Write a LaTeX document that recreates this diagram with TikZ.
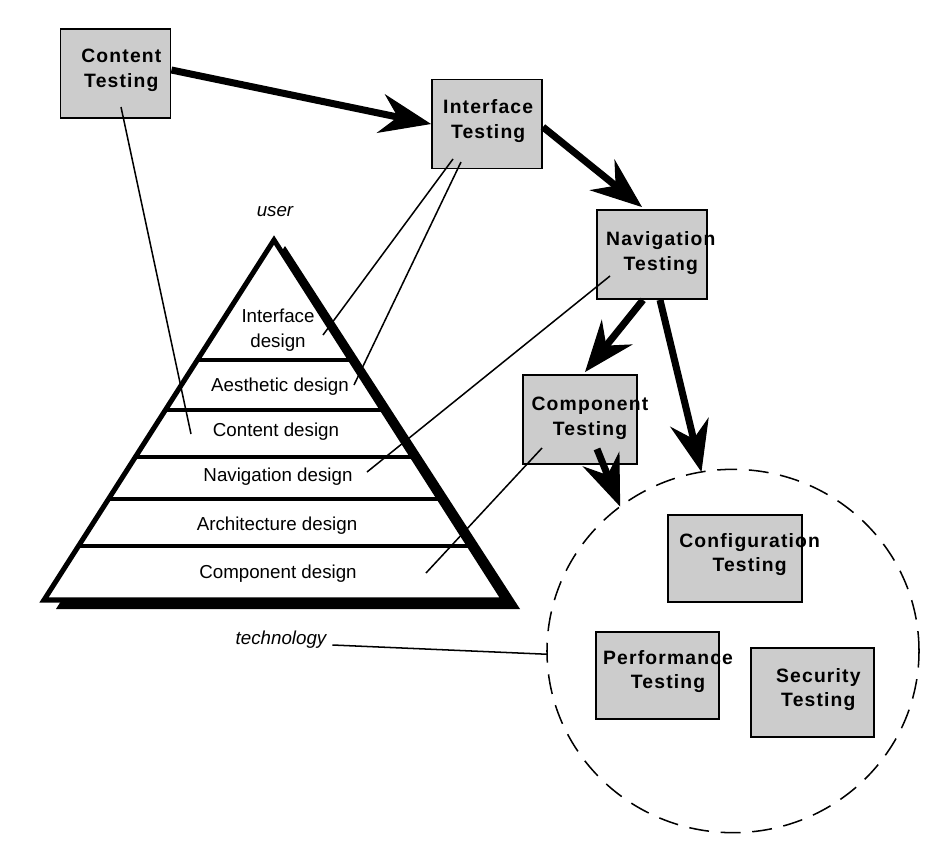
\documentclass[tikz,border=0pt]{standalone}
\usepackage{fontspec}
\setmainfont{Liberation Sans}
\newfontfamily\boxfont[LetterSpace=6]{Liberation Sans}
\usetikzlibrary{arrows.meta, positioning, shapes.geometric, calc}
\definecolor{boxgray}{HTML}{CCCCCC}

\begin{document}
\begin{tikzpicture}[x=0.03cm, y=-0.03cm,
    testbox/.style={draw, line width=1.6pt, fill=boxgray, minimum width=3.3cm, minimum height=2.67cm, inner sep=0pt},
    boxtext/.style={font=\fontsize{16.5}{21}\boxfont\bfseries, align=center},
    layer/.style={font=\fontsize{16}{21}\selectfont, align=center, inner sep=2pt},
    side/.style={font=\fontsize{16}{18}\selectfont\itshape},
    bigarr/.style={line width=6pt, -{Stealth[length=44pt, width=34pt, inset=15pt, line width=1pt]}},
    thin/.style={line width=1.3pt},
]
\useasboundingbox (0,0) rectangle (952,864);

% Pyramid
\coordinate (apex) at (274,240);
\coordinate (bl) at (44,600);
\coordinate (br) at (504,600);
\fill ($(apex)+(11,6)$) -- ($(bl)+(12,9)$) -- ($(br)+(16,9)$) -- cycle;
\draw[line width=4.3pt, fill=white] (apex) -- (bl) -- (br) -- cycle;
\foreach \y in {360,410,457,499,546}
    \draw[line width=3.4pt] ($(apex)!{(\y-240)/360}!(bl)$) -- ($(apex)!{(\y-240)/360}!(br)$);

\node[layer] (lint) at (278,330) {Interface\\design};
\node[layer] (laes) at (280,387) {Aesthetic design};
\node[layer] (lcon) at (276,432) {Content design};
\node[layer] (lnav) at (278,477) {Navigation design};
\node[layer] (larc) at (277,526) {Architecture design};
\node[layer] (lcmp) at (278,574) {Component design};

\node[side] (user) at (275,212) {user};
\node[side] (tech) at (281,640) {technology};

% Technology zone
\node[draw, ellipse, line width=1.3pt, dash pattern=on 17pt off 10pt, minimum width=11.16cm, minimum height=10.9cm, inner sep=0pt, outer sep=0pt] (zone) at (733,651) {};

% Testing boxes
\node[testbox, label={[boxtext, xshift=5pt, yshift=2.5pt]center:{Content\\Testing}}] (ct) at (115.5,73.5) {};
\node[testbox, label={[boxtext, xshift=1pt, yshift=2.5pt]center:{Interface\\Testing}}] (it) at (487,124) {};
\node[testbox, label={[boxtext, xshift=7.5pt, yshift=1pt]center:{Navigation\\Testing}}] (nt) at (652,254.5) {};
\node[testbox, minimum width=3.42cm, label={[boxtext, xshift=8.5pt, yshift=1pt]center:{Component\\Testing}}] (cpt) at (580,419.5) {};
\node[testbox, minimum width=4.02cm, minimum height=2.61cm, label={[boxtext, xshift=12.5pt, yshift=3.5pt]center:{Configuration\\Testing}}] (cft) at (735,558.5) {};
\node[testbox, minimum width=3.69cm, minimum height=2.61cm, label={[boxtext, xshift=9pt, yshift=3.5pt]center:{Performance\\Testing}}] (pt) at (657.5,675.5) {};
\node[testbox, minimum width=3.69cm, label={[boxtext, xshift=5pt, yshift=2.5pt]center:{Security\\Testing}}] (st) at (812.5,692.5) {};

% Links to design layers
\draw[thin] ($(ct)+(5.5,33.5)$) -- ($(lcon)+(-85,2)$);
\draw[thin] ($(it)+(-34,35)$) -- ($(lint)+(45,5)$);
\draw[thin] ($(it)+(-26,38)$) -- ($(laes)+(74,-2)$);
\draw[thin] ($(nt)+(-42,21.5)$) -- ($(lnav)+(89,-5)$);
\draw[thin] ($(cpt)+(-38,28.5)$) -- ($(lcmp)+(148,-1)$);
\draw[thin] ($(tech.east)+(2,5)$) -- (zone.181);

% Testing flow
\draw[bigarr] ($(ct.east)+(0,-3.5)$) -- (it.west);
\draw[bigarr] ($(it.east)+(0,3)$) -- ($(nt.north)+(-10,-2)$);
\draw[bigarr] ($(nt.south)+(-9,0)$) -- ($(cpt.north)+(5,-2)$);
\draw[bigarr] ($(nt.south)+(8,0)$) -- (zone.100);
\draw[bigarr] ($(cpt.south)+(17,-16)$) -- (zone.128);

\end{tikzpicture}
\end{document}
